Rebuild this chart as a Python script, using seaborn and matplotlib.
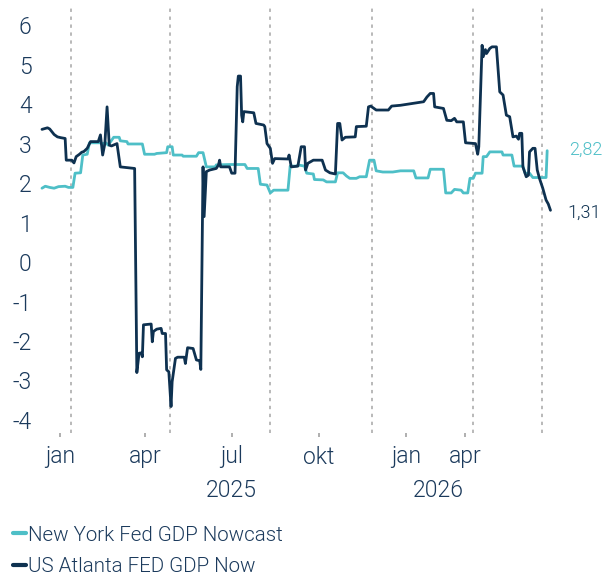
import pandas as pd
import numpy as np
import seaborn as sns
import matplotlib.pyplot as plt
import matplotlib.dates as mdates
from matplotlib.lines import Line2D

# values (day = days since 2025-01-01)
ny_day = [-26, -23, -19, -15, -11, -5, -2, 2, 4, 9, 11, 15, 17, 27, 28, 32, 34, 39, 44, 45,
          51, 52, 65, 67, 76, 78, 87, 88, 92, 93, 101, 102, 114, 116, 120, 123, 131, 132, 144,
          158, 160, 170, 172, 178, 181, 184, 197, 199, 205, 206, 212, 214, 220, 221, 229, 232,
          240, 242, 247, 250, 253, 259, 262, 268, 271, 275, 277, 283, 292, 299, 311, 313, 324,
          326, 338, 340, 345, 348, 354, 356, 360, 362, 365, 367, 373, 374, 377, 380, 391, 392,
          400, 402, 410, 412, 416, 419, 431, 432]
ny_val = [1.87, 1.92, 1.89, 1.87, 1.91, 1.92, 1.89, 1.89, 2.25, 2.26, 2.71, 2.73, 3.02, 3.02,
          2.99, 3.02, 2.96, 3.16, 3.16, 3.07, 3.05, 2.99, 2.99, 2.73, 2.73, 2.75, 2.77, 2.92,
          2.92, 2.71, 2.71, 2.68, 2.68, 2.77, 2.77, 2.41, 2.41, 2.46, 2.47, 2.47, 2.37, 2.37,
          1.97, 1.95, 1.75, 1.82, 1.82, 2.43, 2.43, 2.46, 2.43, 2.25, 2.23, 2.09, 2.08, 2.03,
          2.03, 2.26, 2.26, 2.18, 2.12, 2.12, 2.16, 2.16, 2.58, 2.58, 2.31, 2.28, 2.28, 2.31,
          2.31, 2.13, 2.13, 2.35, 2.35, 1.75, 1.75, 1.84, 1.82, 1.75, 1.75, 2.12, 2.12, 2.25,
          2.25, 2.67, 2.67, 2.79, 2.79, 2.71, 2.71, 2.43, 2.43, 2.25, 2.25, 2.14, 2.14, 2.82]

atl_day = [-26, -21, -19, -17, -15, -12, -9, -5, -4, 1, 3, 5, 8, 10, 12, 15, 18, 25, 27, 29,
           31, 33, 35, 37, 42, 45, 58, 60, 62, 64, 65, 66, 73, 74, 75, 78, 82, 83, 86, 87, 89,
           91, 92, 95, 97, 103, 104, 106, 111, 114, 117, 118, 120, 121, 123, 126, 132, 134, 135,
           136, 144, 146, 149, 151, 152, 154, 155, 156, 157, 166, 168, 175, 176, 178, 181, 183,
           185, 197, 198, 200, 206, 209, 212, 213, 215, 220, 228, 231, 235, 240, 242, 244, 246,
           249, 258, 259, 268, 270, 272, 277, 288, 291, 299, 306, 320, 323, 326, 329, 330, 338,
           341, 345, 348, 350, 356, 358, 367, 369, 370, 373, 374, 376, 377, 380, 382, 386, 389,
           392, 395, 398, 401, 404, 406, 407, 409, 410, 413, 415, 416, 419, 421, 423, 425, 428,
           431, 433, 435]
atl_val = [3.36, 3.40, 3.37, 3.30, 3.23, 3.17, 3.15, 3.13, 2.58, 2.58, 2.51, 2.67, 2.73, 2.78,
           2.80, 2.88, 3.05, 3.05, 3.22, 2.71, 3.00, 3.93, 2.96, 2.94, 3.00, 2.41, 2.37, -2.80,
           -2.31, -2.30, -2.40, -1.59, -1.57, -2.02, -1.76, -1.70, -1.68, -1.81, -1.81, -2.73,
           -2.78, -3.66, -3.03, -2.44, -2.41, -2.41, -2.57, -2.17, -2.19, -2.48, -2.50, -2.72,
           2.41, 1.15, 2.29, 2.33, 2.37, 2.46, 2.58, 2.41, 2.41, 2.25, 2.25, 4.44, 4.71, 4.71,
           3.72, 3.55, 3.81, 3.78, 3.51, 3.47, 3.43, 3.00, 2.88, 2.50, 2.62, 2.61, 2.71, 2.41,
           2.43, 2.92, 2.92, 2.33, 2.50, 2.58, 2.58, 2.33, 2.26, 2.23, 3.51, 3.51, 3.09, 3.16,
           3.17, 3.43, 3.44, 3.93, 3.95, 3.85, 3.85, 3.95, 3.97, 4.00, 4.06, 4.18, 4.27, 4.27,
           3.93, 3.89, 3.59, 3.58, 3.64, 3.55, 3.55, 3.02, 3.00, 2.73, 2.92, 5.49, 5.20, 5.38,
           5.28, 5.41, 5.45, 5.45, 4.31, 4.23, 3.72, 3.68, 3.17, 3.19, 3.11, 3.26, 3.26, 2.41,
           2.16, 2.20, 2.79, 2.88, 2.88, 2.33, 2.12, 1.87, 1.57, 1.47, 1.31]

ny_name = "New York Fed GDP Nowcast"
atl_name = "US Atlanta FED GDP Now"
month_labels = ["jan", "apr", "jul", "okt", "jan", "apr"]
month_dates = ["2025-01-01", "2025-04-01", "2025-07-01", "2025-10-01", "2026-01-01", "2026-03-04"]
year_labels = ["2025", "2026"]
year_dates = ["2025-07-01", "2026-02-04"]

teal = "#4ebfc7"
navy = "#0e3150"
text_col = "#1b3a5c"

base = pd.Timestamp("2025-01-01")
df = pd.concat([
    pd.DataFrame({"date": base + pd.to_timedelta(ny_day, "D"), "value": ny_val, "series": ny_name}),
    pd.DataFrame({"date": base + pd.to_timedelta(atl_day, "D"), "value": atl_val, "series": atl_name}),
])

sns.set_theme(style="white")
plt.rcParams["font.family"] = ["Roboto", "DejaVu Sans"]
plt.rcParams["font.weight"] = 300

fig = plt.figure(figsize=(6.12, 5.77), dpi=100)
ax = fig.add_axes([40 / 612, 1 - 433 / 577, 516 / 612, 428 / 577])

sns.lineplot(data=df, x="date", y="value", hue="series", palette={ny_name: teal, atl_name: navy},
             linewidth=2, ax=ax, legend=False, estimator=None, sort=False)

b = mdates.date2num(base)
ax.set_xlim(b - 27.8, b + 440)
ax.set_ylim(-4.33, 6.51)

for d in month_dates:
    ax.axvline(pd.Timestamp(d), color="#a6a6a6", lw=1.1, ls=(0, (2.2, 3)), zorder=0)

ax.set_yticks(range(-4, 7))
ax.set_yticklabels([str(v) for v in range(-4, 7)], fontsize=16.5, color=text_col)
ax.tick_params(axis="y", length=0, pad=6)
ax.set_xticks([])
ax.set_xlabel("")
ax.set_ylabel("")
for s in ax.spines.values():
    s.set_visible(False)

# month labels sit on their own (slightly compressed) scale
ax2 = ax.twiny()
ax2.xaxis.set_ticks_position("bottom")
ax2.set_xlim(b - 21.1, b + 523.2)
ax2.set_xticks([pd.Timestamp(d) for d in month_dates])
ax2.set_xticklabels(month_labels, fontsize=16.5, color=text_col)
ax2.tick_params(axis="x", length=3, color="#a6a6a6", pad=6)
for s in ax2.spines.values():
    s.set_visible(False)
for lab, d in zip(year_labels, year_dates):
    ax2.text(pd.Timestamp(d), -0.135, lab, transform=ax2.get_xaxis_transform(),
             ha="center", va="center", fontsize=16.5, color=text_col)

# end labels
ax.annotate("2,82", xy=(df[df.series == ny_name].date.iloc[-1], ny_val[-1]), xytext=(16, 1),
            textcoords="offset points", ha="left", va="center", fontsize=13, color=teal,
            annotation_clip=False)
ax.annotate("1,31", xy=(df[df.series == atl_name].date.iloc[-1], atl_val[-1]), xytext=(12, -2),
            textcoords="offset points", ha="left", va="center", fontsize=13, color=navy,
            annotation_clip=False)

handles = [Line2D([], [], color=teal, lw=3), Line2D([], [], color=navy, lw=3)]
fig.legend(handles, [ny_name, atl_name], loc="lower left", bbox_to_anchor=(0.0, -0.022),
           frameon=False, fontsize=14.8, handlelength=0.6, handletextpad=0.12,
           labelspacing=0.62, borderpad=0.15, labelcolor=text_col)

fig.savefig("out.png", dpi=100)
